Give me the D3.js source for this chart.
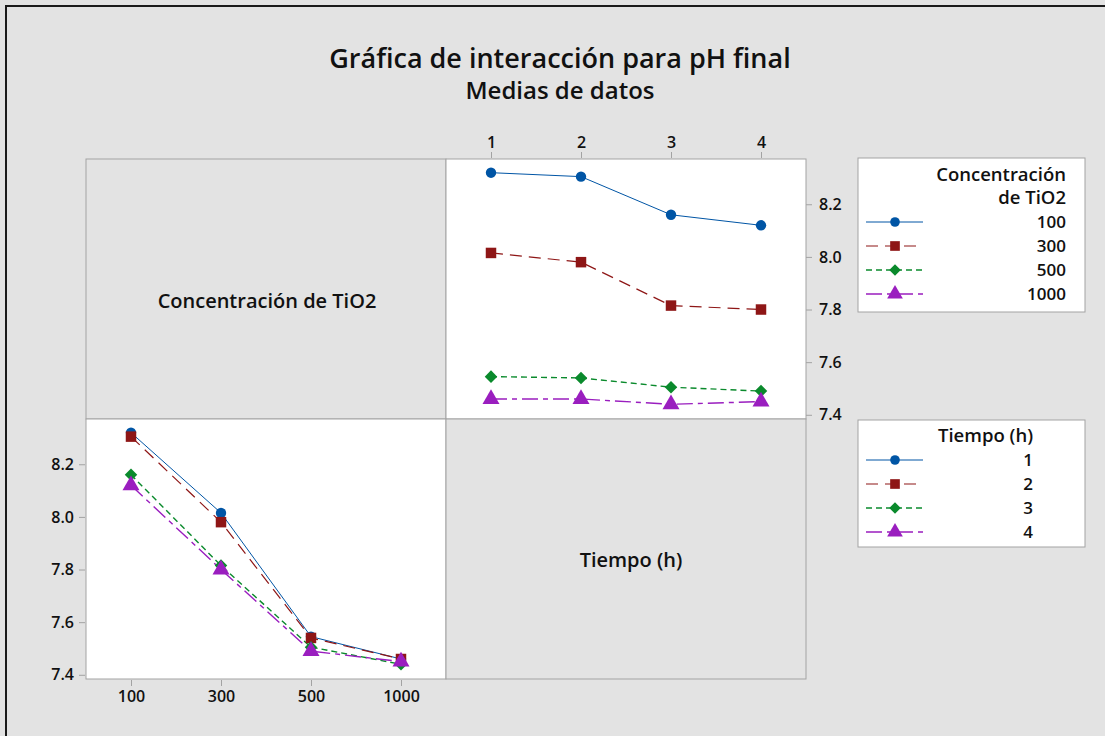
<!DOCTYPE html>
<html>
<head>
<meta charset="utf-8">
<script src="https://cdn.jsdelivr.net/npm/d3@7"></script>
<style>
  body { margin: 0; background: #e3e3e3; }
  svg text { font-family: "Open Sans", "Noto Sans", sans-serif; fill: #111; }
</style>
</head>
<body>
<script>
var svg_width = 1105;
var svg_height = 736;

// factor levels
var concLevels = ['100', '300', '500', '1000'];
var timeLevels = ['1', '2', '3', '4'];
var yTicks = [7.4, 7.6, 7.8, 8.0, 8.2];

// mean pH final for each TiO2 concentration, by tiempo 1..4
var ph_c100 = [8.32, 8.305, 8.16, 8.12];
var ph_c300 = [8.015, 7.98, 7.815, 7.80];
var ph_c500 = [7.545, 7.54, 7.505, 7.49];
var ph_c1000 = [7.46, 7.46, 7.44, 7.45];

var phByConc = [ph_c100, ph_c300, ph_c500, ph_c1000];

var styles = [
  { color: '#0055a5', dash: null, shape: d3.symbolCircle, size: 85, width: 1 },
  { color: '#8e1616', dash: '12,7', shape: d3.symbolSquare, size: 110, width: 1.2 },
  { color: '#0a8a2c', dash: '6,4', shape: d3.symbolDiamond2, size: 100, width: 1.4 },
  { color: '#9a1ebf', dash: '16,5,5,5', shape: d3.symbolTriangle, size: 125, width: 1.4 }
];

var svg = d3.select('body').append('svg')
  .attr('width', svg_width)
  .attr('height', svg_height);

svg.append('rect').attr('width', svg_width).attr('height', svg_height).attr('fill', '#e3e3e3');

// frame lines
svg.append('path').attr('d', 'M6,736 V6 H1105').attr('fill', 'none')
  .attr('stroke', '#1a1a1a').attr('stroke-width', 2);

// titles
svg.append('text').attr('x', 560).attr('y', 68).attr('text-anchor', 'middle')
  .style('font-size', '27px').style('font-weight', 600)
  .text('Gráfica de interacción para pH final');
svg.append('text').attr('x', 560).attr('y', 99).attr('text-anchor', 'middle')
  .style('font-size', '24px').style('font-weight', 600)
  .text('Medias de datos');

// grid layout
var gridLeft = 86, gridTop = 159, cell_w = 360, cell_h = 260;

var panels = [
  { x: gridLeft, y: gridTop, fill: '#e3e3e3' },
  { x: gridLeft + cell_w, y: gridTop, fill: '#ffffff' },
  { x: gridLeft, y: gridTop + cell_h, fill: '#ffffff' },
  { x: gridLeft + cell_w, y: gridTop + cell_h, fill: '#e3e3e3' }
];
svg.selectAll('rect.panel').data(panels).enter().append('rect')
  .attr('class', 'panel')
  .attr('x', function(d) { return d.x; })
  .attr('y', function(d) { return d.y; })
  .attr('width', cell_w).attr('height', cell_h)
  .attr('fill', function(d) { return d.fill; })
  .attr('stroke', '#a3a3a3').attr('stroke-width', 1);

svg.append('text').attr('x', gridLeft + cell_w / 2 + 1).attr('y', gridTop + cell_h / 2 + 19)
  .attr('text-anchor', 'middle').style('font-size', '20px').style('font-weight', 600)
  .text('Concentración de TiO2');
svg.append('text').attr('x', gridLeft + cell_w * 1.5 + 5).attr('y', gridTop + cell_h * 1.5 + 18)
  .attr('text-anchor', 'middle').style('font-size', '20px').style('font-weight', 600)
  .text('Tiempo (h)');

function styleAxis(g) {
  g.select('.domain').remove();
  g.selectAll('.tick line').attr('stroke', '#a3a3a3');
  g.selectAll('.tick text').style('font-size', '16px').style('font-weight', 600)
    .attr('fill', '#111');
}

function drawLines(g, xscale, yscale, xLevels, series) {
  var line = d3.line()
    .x(function(d, i) { return xscale(xLevels[i]); })
    .y(function(d) { return yscale(d); });
  series.forEach(function(vals, k) {
    var s = styles[k];
    g.append('path').datum(vals)
      .attr('d', line).attr('fill', 'none')
      .attr('stroke', s.color).attr('stroke-width', s.width)
      .attr('stroke-dasharray', s.dash);
  });
  series.forEach(function(vals, k) {
    var s = styles[k];
    g.selectAll(null).data(vals).enter().append('path')
      .attr('d', d3.symbol().type(s.shape).size(s.size))
      .attr('transform', function(d, i) {
        return 'translate(' + xscale(xLevels[i]) + ',' + yscale(d) + ')';
      })
      .attr('fill', s.color);
  });
}

// top-right: pH vs tiempo, one line per concentration
var x1 = d3.scalePoint().domain(timeLevels).range([gridLeft + cell_w, gridLeft + 2 * cell_w]).padding(0.5);
var y1 = d3.scaleLinear().domain([7.384, 8.372]).range([gridTop + cell_h, gridTop]);

svg.append('g').attr('transform', 'translate(0,' + (gridTop - 1) + ')')
  .call(d3.axisTop(x1).tickSize(6).tickPadding(4)).call(styleAxis);
svg.append('g').attr('transform', 'translate(' + (gridLeft + 2 * cell_w) + ',0)')
  .call(d3.axisRight(y1).tickValues(yTicks).tickFormat(d3.format('.1f')).tickSize(6).tickPadding(7))
  .call(styleAxis);

drawLines(svg.append('g'), x1, y1, timeLevels, phByConc);

// bottom-left: pH vs concentración, one line per tiempo
var phByTime = timeLevels.map(function(t, j) {
  return phByConc.map(function(row) { return row[j]; });
});
var x2 = d3.scalePoint().domain(concLevels).range([gridLeft, gridLeft + cell_w]).padding(0.5);
var y2 = d3.scaleLinear().domain([7.384, 8.372]).range([gridTop + 2 * cell_h, gridTop + cell_h]);

svg.append('g').attr('transform', 'translate(0,' + (gridTop + 2 * cell_h + 1) + ')')
  .call(d3.axisBottom(x2).tickSize(6).tickPadding(5)).call(styleAxis);
svg.append('g').attr('transform', 'translate(' + (gridLeft - 1) + ',0)')
  .call(d3.axisLeft(y2).tickValues(yTicks).tickFormat(d3.format('.1f')).tickSize(6).tickPadding(5))
  .call(styleAxis);

drawLines(svg.append('g'), x2, y2, concLevels, phByTime);

// legends
function legend(box, titleLines, labels, labelX, titleX, titleY0, rowY0) {
  var g = svg.append('g');
  g.append('rect').attr('x', box[0]).attr('y', box[1]).attr('width', box[2]).attr('height', box[3])
    .attr('fill', '#fff').attr('stroke', '#a3a3a3');
  titleLines.forEach(function(t, i) {
    g.append('text').attr('x', titleX).attr('y', titleY0 + i * 23)
      .attr('text-anchor', 'end').style('font-size', '18.5px').style('font-weight', 600).text(t);
  });
  labels.forEach(function(lab, k) {
    var s = styles[k];
    var yy = rowY0 + k * 24;
    g.append('line').attr('x1', 866).attr('x2', 923).attr('y1', yy).attr('y2', yy)
      .attr('stroke', s.color).attr('stroke-width', s.width).attr('stroke-dasharray', s.dash);
    g.append('path').attr('d', d3.symbol().type(s.shape).size(s.size * 0.85))
      .attr('transform', 'translate(895,' + yy + ')').attr('fill', s.color);
    g.append('text').attr('x', labelX).attr('y', yy + 6).attr('text-anchor', 'end')
      .style('font-size', '17px').style('font-weight', 600).text(lab);
  });
}

legend([858, 158, 227, 154], ['Concentración', 'de TiO2'], concLevels, 1066, 1066, 181, 222);
legend([858, 420, 227, 127], ['Tiempo (h)'], timeLevels, 1033, 1033, 442, 460);
</script>
</body>
</html>
